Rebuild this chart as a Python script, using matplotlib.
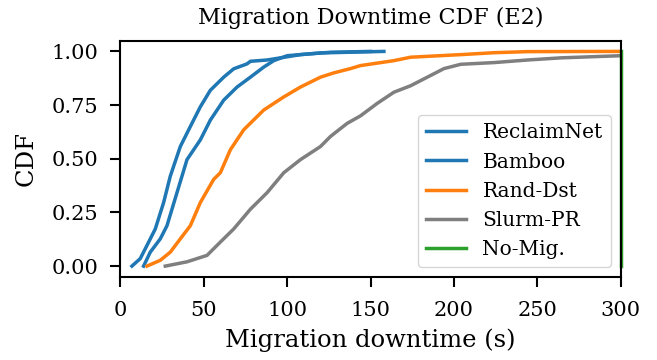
import matplotlib
matplotlib.use("Agg")
import matplotlib.pyplot as plt

# CDF curves (x = downtime in s, y = cumulative fraction)
reclaim_x = [7, 12, 16, 21, 26, 30, 36, 42, 48, 54, 62, 68, 76, 78, 88, 108, 126, 150]
reclaim_y = [0.0, 0.035, 0.096, 0.173, 0.296, 0.419, 0.557, 0.65, 0.742, 0.819, 0.88, 0.919, 0.942, 0.954, 0.96, 0.985, 0.996, 1.0]

bamboo_x = [14, 18, 24, 28, 34, 40, 48, 54, 62, 70, 78, 86, 92, 100, 120, 158]
bamboo_y = [0.0, 0.065, 0.127, 0.188, 0.342, 0.496, 0.588, 0.68, 0.773, 0.834, 0.88, 0.927, 0.957, 0.98, 0.993, 1.0]

rand_x = [16, 24, 30, 36, 42, 48, 56, 60, 66, 74, 86, 98, 108, 120, 128, 138, 144, 164, 174, 204, 224, 244, 300]
rand_y = [0.0, 0.027, 0.065, 0.127, 0.188, 0.296, 0.404, 0.435, 0.542, 0.635, 0.727, 0.788, 0.834, 0.88, 0.90, 0.92, 0.934, 0.957, 0.973, 0.985, 0.994, 0.999, 1.0]

slurm_x = [27, 40, 52, 60, 68, 78, 88, 98, 108, 120, 126, 136, 144, 154, 164, 174, 184, 194, 204, 224, 244, 264, 300]
slurm_y = [0.0, 0.02, 0.05, 0.112, 0.173, 0.265, 0.342, 0.435, 0.496, 0.557, 0.604, 0.665, 0.70, 0.758, 0.81, 0.84, 0.88, 0.92, 0.94, 0.948, 0.96, 0.97, 0.98]

nomig_x = [300, 300]
nomig_y = [0.0, 1.0]

plt.rcParams['font.family'] = 'DejaVu Serif'

fig, ax = plt.subplots(figsize=(6.57, 3.6), dpi=100)
fig.subplots_adjust(left=0.183, right=0.945, top=0.887, bottom=0.231)

lw = 2.5
ax.plot(reclaim_x, reclaim_y, color="#1f77b4", lw=lw, label="ReclaimNet")
ax.plot(bamboo_x, bamboo_y, color="#1f77b4", lw=lw, label="Bamboo")
ax.plot(rand_x, rand_y, color="#ff7f0e", lw=lw, label="Rand-Dst")
ax.plot(slurm_x, slurm_y, color="#7f7f7f", lw=lw, label="Slurm-PR")
ax.plot(nomig_x, nomig_y, color="#2ca02c", lw=lw, label="No-Mig.", clip_on=False)

ax.set_xlim(0, 300)
ax.set_ylim(-0.05, 1.05)
ax.set_yticks([0, 0.25, 0.5, 0.75, 1.0])
ax.set_yticklabels(["0.00", "0.25", "0.50", "0.75", "1.00"])
ax.tick_params(labelsize=15, width=1.5, length=7)
ax.tick_params(axis="x", pad=10.5)
ax.tick_params(axis="y", pad=8.5)
for s in ax.spines.values():
    s.set_linewidth(1.5)

ax.set_title("Migration Downtime CDF (E2)", fontsize=16, pad=12)
ax.set_xlabel("Migration downtime (s)", fontsize=17.5, labelpad=6)
ax.set_ylabel("CDF", fontsize=17.5, labelpad=10.5)
ax.legend(loc="lower right", fontsize=14.5)

plt.savefig("out.png")
